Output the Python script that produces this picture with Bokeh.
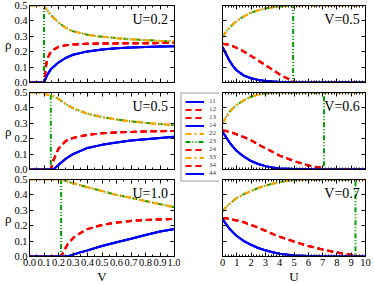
from bokeh.plotting import figure
from bokeh.models import (Range1d, FixedTicker, PrintfTickFormatter, LinearAxis,
                          Label, Legend, LegendItem, CustomLabelingPolicy)
from bokeh.layouts import row, column
from bokeh.embed import file_html
from bokeh.resources import INLINE

# ---------------- data: left column, rho vs V at fixed U ----------------
V_U02 = [0.0, 0.1, 0.1, 0.12, 0.15, 0.2, 0.25, 0.3, 0.4, 0.5, 0.6, 0.7, 0.8, 0.9, 1.0]
orange_U02 = [0.5, 0.5, 0.5, 0.47, 0.435, 0.39, 0.355, 0.333, 0.31, 0.297, 0.288, 0.281, 0.275, 0.27, 0.266]
green_U02 = [0.0, 0.0, 0.5, 0.47, 0.435, 0.39, 0.355, 0.333, 0.31, 0.297, 0.288, 0.281, 0.275, 0.27, 0.266]
red_U02 = [0.0, 0.0, 0.0, 0.15, 0.205, 0.232, 0.242, 0.247, 0.251, 0.253, 0.254, 0.255, 0.255, 0.256, 0.256]
blue_U02 = [0.0, 0.0, 0.0, 0.045, 0.09, 0.13, 0.16, 0.18, 0.202, 0.215, 0.222, 0.227, 0.231, 0.234, 0.236]

V_U05 = [0.0, 0.05, 0.147, 0.147, 0.165, 0.2, 0.25, 0.3, 0.4, 0.5, 0.6, 0.7, 0.8, 0.9, 1.0]
orange_U05 = [0.5, 0.5, 0.482, 0.482, 0.475, 0.458, 0.425, 0.398, 0.362, 0.34, 0.325, 0.313, 0.303, 0.295, 0.288]
green_U05 = [0.0, 0.0, 0.0, 0.482, 0.475, 0.458, 0.425, 0.398, 0.362, 0.34, 0.325, 0.313, 0.303, 0.295, 0.288]
red_U05 = [0.0, 0.0, 0.0, 0.0, 0.06, 0.135, 0.185, 0.205, 0.225, 0.235, 0.24, 0.244, 0.247, 0.249, 0.25]
blue_U05 = [0.0, 0.0, 0.0, 0.0, 0.0, 0.03, 0.07, 0.1, 0.14, 0.16, 0.175, 0.188, 0.197, 0.205, 0.212]

V_U10 = [0.0, 0.1, 0.218, 0.218, 0.26, 0.3, 0.35, 0.4, 0.5, 0.6, 0.7, 0.8, 0.9, 1.0]
orange_U10 = [0.5, 0.5, 0.498, 0.498, 0.488, 0.476, 0.463, 0.45, 0.425, 0.4, 0.381, 0.36, 0.34, 0.32]
green_U10 = [0.0, 0.0, 0.0, 0.498, 0.488, 0.476, 0.463, 0.45, 0.425, 0.4, 0.381, 0.36, 0.34, 0.32]
red_U10 = [0.0, 0.0, 0.0, 0.0, 0.075, 0.12, 0.152, 0.178, 0.205, 0.221, 0.231, 0.237, 0.241, 0.244]
blue_U10 = [0.0, 0.0, 0.0, 0.0, 0.0, 0.012, 0.027, 0.04, 0.068, 0.093, 0.115, 0.14, 0.162, 0.178]

# ---------------- data: right column, rho vs U at fixed V ----------------
U_V05 = [0, 0.25, 0.5, 0.75, 1, 1.5, 2, 2.5, 3, 3.5, 4, 4.5, 4.94, 4.94, 6, 7, 8, 9, 10]
orange_V05 = [0.298, 0.33, 0.358, 0.38, 0.4, 0.43, 0.453, 0.469, 0.48, 0.488, 0.494, 0.497, 0.499, 0.499, 0.5, 0.5, 0.5, 0.5, 0.5]
green_V05 = [0.298, 0.33, 0.358, 0.38, 0.4, 0.43, 0.453, 0.469, 0.48, 0.488, 0.494, 0.497, 0.499, 0, 0, 0, 0, 0, 0]
red_V05 = [0.251, 0.249, 0.243, 0.235, 0.225, 0.2, 0.172, 0.143, 0.113, 0.083, 0.052, 0.028, 0.01, 0, 0, 0, 0, 0, 0]
blue_V05 = [0.23, 0.185, 0.14, 0.105, 0.078, 0.045, 0.028, 0.017, 0.01, 0.006, 0.003, 0.002, 0.001, 0, 0, 0, 0, 0, 0]

U_V06 = [0, 0.25, 0.5, 0.75, 1, 1.5, 2, 2.5, 3, 3.5, 4, 5, 6, 7.1, 7.1, 8, 9, 10]
orange_V06 = [0.3, 0.34, 0.375, 0.4, 0.42, 0.45, 0.472, 0.486, 0.494, 0.498, 0.5, 0.5, 0.5, 0.5, 0.5, 0.5, 0.5, 0.5]
green_V06 = [0.3, 0.34, 0.375, 0.4, 0.42, 0.45, 0.472, 0.486, 0.494, 0.498, 0.5, 0.5, 0.5, 0.5, 0, 0, 0, 0]
red_V06 = [0.254, 0.25, 0.244, 0.237, 0.228, 0.21, 0.19, 0.162, 0.138, 0.115, 0.09, 0.055, 0.026, 0.008, 0, 0, 0, 0]
blue_V06 = [0.244, 0.21, 0.175, 0.145, 0.12, 0.083, 0.055, 0.036, 0.022, 0.013, 0.007, 0.003, 0.001, 0, 0, 0, 0, 0]

U_V07 = [0, 0.25, 0.5, 0.75, 1, 1.5, 2, 2.5, 3, 3.5, 4, 5, 6, 7, 8, 9, 9.3, 9.3, 10]
orange_V07 = [0.295, 0.32, 0.343, 0.362, 0.38, 0.405, 0.425, 0.445, 0.46, 0.473, 0.484, 0.496, 0.5, 0.5, 0.5, 0.5, 0.5, 0.5, 0.5]
green_V07 = [0.295, 0.32, 0.343, 0.362, 0.38, 0.405, 0.425, 0.445, 0.46, 0.473, 0.484, 0.496, 0.5, 0.5, 0.5, 0.5, 0.5, 0, 0]
red_V07 = [0.249, 0.248, 0.244, 0.239, 0.234, 0.222, 0.205, 0.187, 0.167, 0.147, 0.128, 0.097, 0.068, 0.045, 0.026, 0.012, 0.008, 0, 0]
blue_V07 = [0.243, 0.21, 0.18, 0.155, 0.133, 0.1, 0.075, 0.055, 0.04, 0.028, 0.018, 0.007, 0.003, 0.001, 0, 0, 0, 0, 0]

# legend entries -> colour group
series_names = ["11", "12", "13", "14", "22", "23", "24", "33", "34", "44"]
series_groups = ["blue", "red", "red", "blue", "orange", "green", "red", "orange", "red", "blue"]

V_ticks = [0.0, 0.1, 0.2, 0.3, 0.4, 0.5, 0.6, 0.7, 0.8, 0.9, 1.0]
V_minor = [0.05, 0.15, 0.25, 0.35, 0.45, 0.55, 0.65, 0.75, 0.85, 0.95]
U_ticks = [0, 1, 2, 3, 4, 5, 6, 7, 8, 9, 10]
U_minor = [i * 0.2 for i in range(51)]
rho_ticks = [0.0, 0.1, 0.2, 0.3, 0.4, 0.5]

left_panels = [("U=0.2", V_U02, {"orange": orange_U02, "green": green_U02, "red": red_U02, "blue": blue_U02}),
               ("U=0.5", V_U05, {"orange": orange_U05, "green": green_U05, "red": red_U05, "blue": blue_U05}),
               ("U=1.0", V_U10, {"orange": orange_U10, "green": green_U10, "red": red_U10, "blue": blue_U10})]
right_panels = [("V=0.5", U_V05, {"orange": orange_V05, "green": green_V05, "red": red_V05, "blue": blue_V05}),
                ("V=0.6", U_V06, {"orange": orange_V06, "green": green_V06, "red": red_V06, "blue": blue_V06}),
                ("V=0.7", U_V07, {"orange": orange_V07, "green": green_V07, "red": red_V07, "blue": blue_V07})]

STYLE = {
    "blue": dict(line_color="#0000ff", line_dash="solid"),
    "red": dict(line_color="#ff0000", line_dash="6 4"),
    "orange": dict(line_color="#ffa500", line_dash="6 3 2 3"),
    "green": dict(line_color="#00a000", line_dash="5 2 1 2 1 2"),
}
FONT = "Liberation Serif"
FRAME_H = 77
GAP = 5
BOTTOM = 28
TOTAL_H = 6 * GAP + 3 * FRAME_H + BOTTOM - GAP
LEFT_W, RIGHT_W = 145, 143

HIDE_LABELS = """
for (const i of indices)
  indices.unset(i)
"""


def axis(ticks, minor, fmt, show, label=None):
    ax = LinearAxis(ticker=FixedTicker(ticks=ticks, minor_ticks=minor),
                    formatter=PrintfTickFormatter(format=fmt))
    ax.axis_line_color = "black"
    ax.axis_line_width = 1
    ax.major_tick_in = 4
    ax.major_tick_out = 0
    ax.minor_tick_in = 2
    ax.minor_tick_out = 0
    ax.major_tick_line_color = "black"
    ax.minor_tick_line_color = "black"
    ax.major_label_text_font = FONT
    ax.major_label_text_color = "black"
    if show:
        ax.major_label_text_font_size = "10.5px"
        ax.major_label_standoff = 2
    else:
        ax.major_label_text_font_size = "0px"
        ax.major_label_standoff = 0
        ax.major_label_policy = CustomLabelingPolicy(code=HIDE_LABELS)
    if label is not None:
        ax.axis_label = label
        ax.axis_label_text_font = FONT
        ax.axis_label_text_font_size = "13px"
        ax.axis_label_text_font_style = "normal"
        ax.axis_label_text_color = "black"
        ax.axis_label_standoff = 0
    return ax


def panel(title, xs, data, is_left, rowi):
    xr = (0, 1) if is_left else (0, 10)
    p = figure(frame_width=LEFT_W if is_left else RIGHT_W, frame_height=FRAME_H,
               x_range=Range1d(*xr), y_range=Range1d(0, 0.5),
               x_axis_type=None, y_axis_type=None,
               toolbar_location=None, output_backend="svg",
               min_border_left=29 if is_left else 3,
               min_border_right=6 if is_left else 7,
               min_border_top=GAP,
               min_border_bottom=BOTTOM if rowi == 2 else GAP)
    p.outline_line_color = "black"
    p.outline_line_width = 1
    p.background_fill_color = "white"
    p.border_fill_color = "white"
    xt, xm, xf = (V_ticks, V_minor, "%.1f") if is_left else (U_ticks, U_minor, "%d")
    xlab = ("V" if is_left else "U") if rowi == 2 else None
    p.add_layout(axis(xt, xm, xf, rowi == 2, xlab), "below")
    p.add_layout(axis(xt, xm, xf, False), "above")
    yax = axis(rho_ticks, [], "%.1f", is_left, "ρ" if is_left else None)
    if is_left:
        try:
            yax.axis_label_orientation = "horizontal"
        except Exception:
            pass
    p.add_layout(yax, "left")
    p.add_layout(axis(rho_ticks, [], "%.1f", False), "right")
    for name, grp in zip(series_names, series_groups):
        p.line(xs, data[grp], line_width=2, **STYLE[grp])
    p.add_layout(Label(x=xr[1] * (0.955 if is_left else 0.96), y=0.408, text=title,
                       text_font=FONT, text_font_size="14px", text_align="right",
                       text_baseline="alphabetic", text_color="black"))
    return p


lefts = [panel(t, xs, d, True, i) for i, (t, xs, d) in enumerate(left_panels)]
rights = [panel(t, xs, d, False, i) for i, (t, xs, d) in enumerate(right_panels)]

# legend figure: full column height; its lines use the first panel's data,
# kept outside its visible y-range so only the legend samples show
LEG_TOP = 3 * GAP + FRAME_H - 1      # legend top, px from the figure top
LEG_H = 91
lf = figure(width=39, height=TOTAL_H, x_range=Range1d(0, 1), y_range=Range1d(2, 3),
            x_axis_type=None, y_axis_type=None, toolbar_location=None,
            output_backend="svg", min_border=0)
lf.outline_line_color = None
items = []
for name, grp in zip(series_names, series_groups):
    r = lf.line(V_U02, left_panels[0][2][grp], line_width=2, **STYLE[grp])
    items.append(LegendItem(label=name, renderers=[r]))
leg = Legend(items=items, location=(0, TOTAL_H - LEG_TOP - LEG_H), margin=0, padding=3,
             spacing=0, label_height=7, glyph_height=7, glyph_width=19, label_standoff=5,
             label_text_font=FONT, label_text_font_size="7px", label_text_color="#444444",
             border_line_color="#999999", border_line_width=2,
             background_fill_color="white")
lf.add_layout(leg)

layout = row(column(*lefts), lf, column(*rights))

open("out.html", "w").write(file_html(layout, INLINE))
